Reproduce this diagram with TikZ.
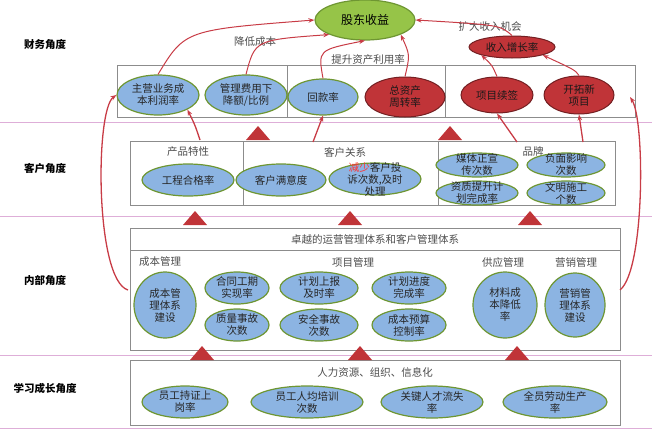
\documentclass[tikz,border=0pt]{standalone}
\usepackage{fontspec}
\setmainfont{Noto Sans CJK SC}
\usetikzlibrary{arrows.meta,shapes.geometric}
\definecolor{kpiblue}{RGB}{140,180,226}
\definecolor{kpired}{RGB}{192,52,56}
\definecolor{kpigreen}{RGB}{150,196,72}
\definecolor{rimgreen}{RGB}{110,150,50}
\definecolor{linkred}{RGB}{200,60,70}
\definecolor{bandpink}{RGB}{200,120,190}

\tikzset{kpi/.style={ellipse,draw=rimgreen,line width=1.2pt,fill=kpiblue,inner sep=-1pt,font=\fontsize{10.5}{12}\selectfont,align=center,text=black!85}}
\tikzset{hot/.style={ellipse,draw=kpired!60!black,line width=1pt,fill=kpired,inner sep=-1pt,font=\fontsize{10.5}{12}\selectfont,align=center,text=black!90}}
\tikzset{tight/.style={inner sep=-5pt}}
\tikzset{layer/.style={draw=black!45,line width=0.5pt}}
\tikzset{tag/.style={font=\fontsize{10.5}{12}\selectfont\itshape,text=black!70}}
\tikzset{axis/.style={font=\fontsize{10.5}{12}\selectfont\bfseries}}
\tikzset{lift/.style={-{Stealth[length=6pt]},linkred,line width=1.3pt}}
\tikzset{wedge/.style={fill=kpired,draw=none}}

\begin{document}
\begin{tikzpicture}[x=1pt,y=-1pt]
  \useasboundingbox (0,0) rectangle (660,431);
  % bands
  \foreach \y in {122,216,355,428}
    \draw[bandpink!60,line width=1pt] (0,\y) -- (652,\y);
  \node[axis] (Finance) at (45,45) {财务角度};
  \node[axis] (Customer) at (45,168) {客户角度};
  \node[axis] (Internal) at (45,280) {内部角度};
  \node[axis] (Learning) at (45,388) {学习成长角度};

  % finance layer
  \draw[layer] (117,65) rectangle (635,117);
  \draw[layer] (287,65) -- (287,117) (445,65) -- (445,117);
  \node[ellipse,draw=rimgreen,line width=1.2pt,fill=kpigreen,minimum width=100,minimum height=40,font=\fontsize{12}{14}\selectfont] (Equity) at (365,20) {股东收益};
  \node[hot,tight,minimum width=86,minimum height=22] (Revenue) at (512,47) {收入增长率};
  \node[kpi,tight,minimum width=82,minimum height=40] (Margin) at (158,95) {主营业务成\\本利润率};
  \node[kpi,tight,minimum width=82,minimum height=40] (Overhead) at (246,95) {管理费用下\\降额/比例};
  \node[kpi,minimum width=70,minimum height=36] (Collect) at (323,97) {回款率};
  \node[hot,tight,minimum width=80,minimum height=40] (Turnover) at (405,97) {总资产\\周转率};
  \node[hot,minimum width=72,minimum height=36] (Renew) at (497,95) {项目续签};
  \node[hot,tight,minimum width=70,minimum height=38] (NewProj) at (579,95) {开拓新\\项目};
  \node[tag] (CutCost) at (255,42) {降低成本};
  \node[tag] (UseAsset) at (368,60) {提升资产利用率};
  \node[tag] (Expand) at (490,27) {扩大收入机会};

  % customer layer
  \draw[layer] (130,141) rectangle (615,205);
  \draw[layer] (243,141) -- (243,205) (438,141) -- (438,205);
  \node[tag] (Product) at (188,152) {产品特性};
  \node[tag] (Relation) at (345,152) {客户关系};
  \node[tag] (Brand) at (533,152) {品牌};
  \node[kpi,minimum width=92,minimum height=32] (Quality) at (188,180) {工程合格率};
  \node[kpi,minimum width=90,minimum height=32] (Satisfy) at (281,180) {客户满意度};
  \node[kpi,inner sep=-9pt,minimum width=92,minimum height=32] (Complaint) at (375,179) {\textcolor{red!80}{减少}客户投\\诉次数,及时\\处理};
  \node[kpi,tight,minimum width=82,minimum height=24] (Media) at (477,165) {媒体正宣\\传次数};
  \node[kpi,tight,minimum width=82,minimum height=24] (Certify) at (477,193) {资质提升计\\划完成率};
  \node[kpi,tight,minimum width=78,minimum height=24] (Negative) at (566,165) {负面影响\\次数};
  \node[kpi,tight,minimum width=78,minimum height=24] (Civil) at (566,193) {文明施工\\个数};

  % internal layer
  \draw[layer] (130,228) rectangle (620,350);
  \draw[layer] (130,250) -- (620,250);
  \node[tag] (Excel) at (375,239) {卓越的运营管理体系和客户管理体系};
  \node[tag] (CostMgmt) at (160,262) {成本管理};
  \node[tag] (ProjMgmt) at (353,262) {项目管理};
  \node[tag] (SupplyMgmt) at (503,262) {供应管理};
  \node[tag] (SaleMgmt) at (576,262) {营销管理};
  \node[kpi,minimum width=62,minimum height=66] (CostSys) at (165,305) {成本管\\理体系\\建设};
  \node[kpi,tight,minimum width=64,minimum height=32] (Period) at (237,288) {合同工期\\实现率};
  \node[kpi,tight,minimum width=64,minimum height=32] (Accident) at (237,325) {质量事故\\次数};
  \node[kpi,tight,minimum width=78,minimum height=32] (Report) at (319,288) {计划上报\\及时率};
  \node[kpi,tight,minimum width=78,minimum height=32] (Safety) at (319,325) {安全事故\\次数};
  \node[kpi,tight,minimum width=74,minimum height=32] (Progress) at (409,288) {计划进度\\完成率};
  \node[kpi,tight,minimum width=74,minimum height=32] (Budget) at (409,325) {成本预算\\控制率};
  \node[kpi,minimum width=64,minimum height=66] (Material) at (505,305) {材料成\\本降低\\率};
  \node[kpi,minimum width=60,minimum height=64] (SaleSys) at (575,305) {营销管\\理体系\\建设};

  % learning layer
  \draw[layer] (130,360) rectangle (620,425);
  \node[tag] (People) at (375,372) {人力资源、组织、信息化};
  \node[kpi,tight,minimum width=86,minimum height=32] (License) at (185,402) {员工持证上\\岗率};
  \node[kpi,tight,minimum width=112,minimum height=32] (Training) at (307,402) {员工人均培训\\次数};
  \node[kpi,tight,minimum width=102,minimum height=32] (Talent) at (432,402) {关键人才流失\\率};
  \node[kpi,tight,minimum width=104,minimum height=32] (Labour) at (555,402) {全员劳动生产\\率};

  % wedges between layers
  \foreach \x/\y in {258/133,450/133,195/218,350/218,530/218,202/353,360/353,517/353}
    \fill[wedge] (\x-12,\y+7) -- (\x,\y-7) -- (\x+12,\y+7) -- cycle;

  % connectors
  \coordinate (LeftFoot) at (128,290);
  \coordinate (RightFoot) at (620,290);
  \coordinate (RightTop) at (630,97);
  \coordinate (MarginFoot) at (200,140);
  \coordinate (CollectFoot) at (313,142);
  \coordinate (RenewFoot) at (517,142);
  \coordinate (NewFoot) at (583,142);
  \draw[lift] (LeftFoot) .. controls (95,280) and (95,110) .. (Margin.west);
  \draw[lift] (RightFoot) .. controls (645,270) and (645,120) .. (RightTop);
  \draw[lift] (MarginFoot) .. controls (195,125) .. (Margin.south east);
  \draw[lift] (CollectFoot) -- (Collect.south);
  \draw[lift] (RenewFoot) -- (Renew.south);
  \draw[lift] (NewFoot) -- (NewProj.south);
  \draw[lift,line width=1pt] (Margin.north) .. controls (185,30) .. (Equity.west);
  \draw[lift,line width=1pt] (Overhead.north) .. controls (255,40) .. (Equity.south west);
  \draw[lift,line width=1pt] (Collect.north) .. controls (318,50) .. (Equity.south);
  \draw[lift,line width=1pt] (Turnover.north) .. controls (410,55) .. (Equity.south east);
  \draw[lift,line width=1pt] (Renew.north) .. controls (492,65) .. (Revenue.south west);
  \draw[lift,line width=1pt] (NewProj.north) .. controls (575,70) .. (Revenue.south east);
  \draw[lift,line width=1pt] (Revenue.north) .. controls (500,25) .. (Equity.east);
\end{tikzpicture}
\end{document}
